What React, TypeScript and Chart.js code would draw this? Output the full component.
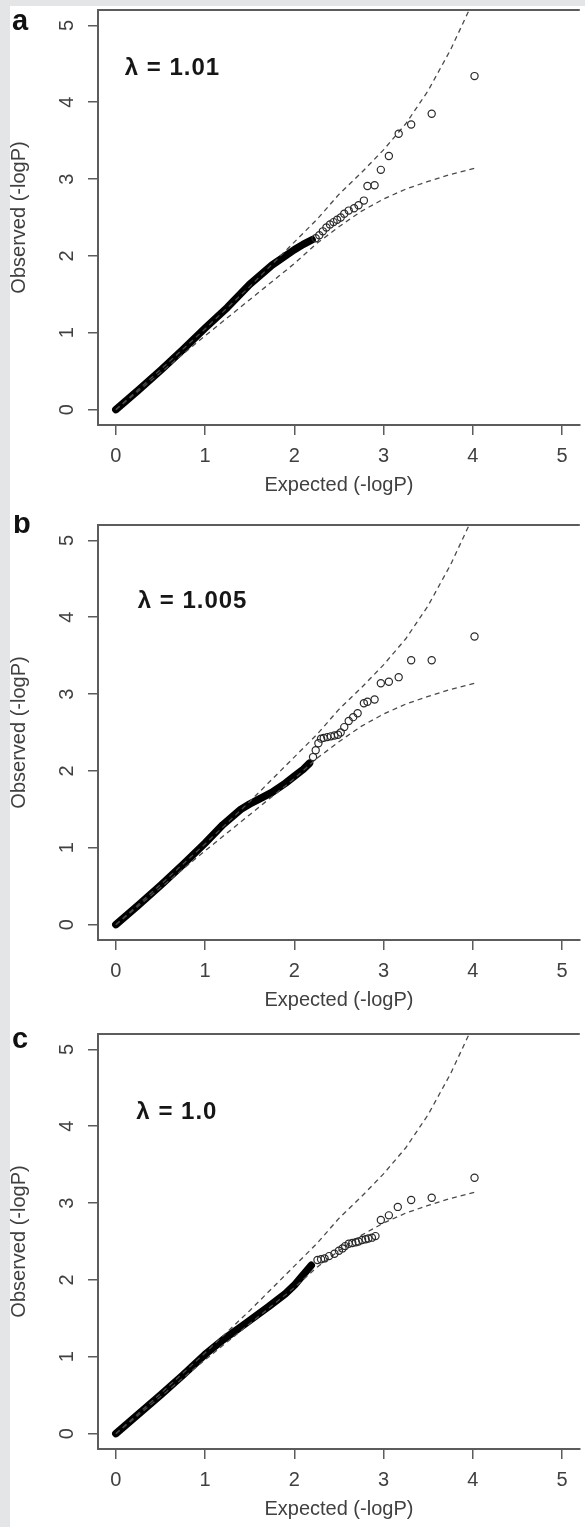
import React, { useEffect, useRef } from 'react';
import { Chart, registerables } from 'chart.js';

Chart.register(...registerables);

// ---------- axis / text ----------
const tickValues = [0, 1, 2, 3, 4, 5];
const tickLabels = ['0', '1', '2', '3', '4', '5'];
const axisMin = -0.2;
const axisMax = 5.2;
const xTitle = 'Expected (-logP)';
const yTitle = 'Observed (-logP)';
const panelLetters = ['a', 'b', 'c'];
const lambdaLabels = ['λ = 1.01', 'λ = 1.005', 'λ = 1.0'];
const lambdaX = [0.1, 0.245, 0.23];
const lambdaY = [4.35, 4.12, 4.1];

// ---------- confidence band (dashed) ----------
const ciUpperX = [0, 0.5, 1.0, 1.5, 2.0, 2.25, 2.5, 2.75, 3.0, 3.25, 3.5, 3.75, 3.96, 4.02];
const ciUpperY = [0, 0.52, 1.05, 1.6, 2.18, 2.47, 2.8, 3.08, 3.38, 3.72, 4.15, 4.68, 5.2, 5.32];
const ciLowerX = [0, 0.5, 1.0, 1.5, 2.0, 2.25, 2.5, 2.75, 3.0, 3.25, 3.5, 3.75, 4.02];
const ciLowerY = [0, 0.48, 0.96, 1.43, 1.9, 2.16, 2.38, 2.58, 2.74, 2.87, 2.97, 3.06, 3.14];

// ---------- panel a (lambda = 1.01) ----------
const denseAX = [0, 0.25, 0.5, 0.75, 1.0, 1.25, 1.5, 1.75, 2.0, 2.1, 2.2];
const denseAY = [0, 0.25, 0.51, 0.78, 1.06, 1.33, 1.63, 1.88, 2.08, 2.15, 2.21];
const tailAX = [2.24, 2.28, 2.32, 2.36, 2.4, 2.44, 2.48, 2.52, 2.56, 2.61, 2.67, 2.72, 2.78, 2.82, 2.9, 2.97, 3.06, 3.17, 3.31, 3.54, 4.02];
const tailAY = [2.23, 2.27, 2.32, 2.37, 2.41, 2.44, 2.47, 2.5, 2.55, 2.59, 2.62, 2.66, 2.72, 2.91, 2.92, 3.12, 3.3, 3.59, 3.71, 3.85, 4.34];

// ---------- panel b (lambda = 1.005) ----------
const denseBX = [0, 0.25, 0.5, 0.75, 1.0, 1.2, 1.4, 1.5, 1.6, 1.75, 1.9, 2.0, 2.1, 2.17];
const denseBY = [0, 0.25, 0.51, 0.78, 1.06, 1.3, 1.5, 1.57, 1.63, 1.72, 1.84, 1.93, 2.02, 2.1];
const tailBX = [2.21, 2.24, 2.27, 2.3, 2.33, 2.37, 2.41, 2.45, 2.49, 2.52, 2.56, 2.61, 2.66, 2.71, 2.78, 2.82, 2.9, 2.97, 3.06, 3.17, 3.31, 3.54, 4.02];
const tailBY = [2.18, 2.27, 2.36, 2.42, 2.43, 2.44, 2.45, 2.46, 2.47, 2.5, 2.57, 2.65, 2.7, 2.75, 2.88, 2.9, 2.93, 3.14, 3.16, 3.22, 3.44, 3.44, 3.75];

// ---------- panel c (lambda = 1.0) ----------
const denseCX = [0, 0.25, 0.5, 0.75, 1.0, 1.2, 1.45, 1.71, 1.9, 2.0, 2.08, 2.19];
const denseCY = [0, 0.25, 0.5, 0.76, 1.03, 1.22, 1.43, 1.65, 1.82, 1.93, 2.04, 2.19];
const tailCX = [2.26, 2.3, 2.34, 2.39, 2.45, 2.5, 2.54, 2.57, 2.61, 2.65, 2.69, 2.72, 2.76, 2.8, 2.83, 2.87, 2.91, 2.97, 3.06, 3.16, 3.31, 3.54, 4.02];
const tailCY = [2.26, 2.27, 2.28, 2.31, 2.34, 2.38, 2.41, 2.44, 2.47, 2.48, 2.49, 2.5, 2.52, 2.53, 2.54, 2.55, 2.57, 2.78, 2.84, 2.95, 3.04, 3.07, 3.33];

const denseXs = [denseAX, denseBX, denseCX];
const denseYs = [denseAY, denseBY, denseCY];
const tailXs = [tailAX, tailBX, tailCX];
const tailYs = [tailAY, tailBY, tailCY];

// ---------- layout (px) ----------
const PANEL_TOPS = [0, 515, 1024];
const LETTER_POS = [
  { x: 12, y: 30 },
  { x: 13, y: 18 },
  { x: 12, y: 24 },
];
const FONT = '"Liberation Sans", Arial, Helvetica, sans-serif';
const AXIS_COLOR = '#5c5c5c';
const TEXT_COLOR = '#404040';

const toPts = (xs: number[], ys: number[]) => xs.map((x, i) => ({ x, y: ys[i] }));

const decorPlugin = {
  id: 'decor',
  afterDraw(chart: any, _args: any, opts: any) {
    const { ctx, chartArea: ca, scales } = chart;
    const xs = scales.x;
    const ys = scales.y;
    ctx.save();
    // top spine of the box
    ctx.strokeStyle = AXIS_COLOR;
    ctx.lineWidth = 2;
    ctx.beginPath();
    ctx.moveTo(ca.left - 1, ca.top);
    ctx.lineTo(ca.right, ca.top);
    ctx.stroke();

    // rotated y tick labels (R style)
    ctx.fillStyle = TEXT_COLOR;
    ctx.font = `20px ${FONT}`;
    ctx.textAlign = 'center';
    ctx.textBaseline = 'alphabetic';
    tickValues.forEach((v, i) => {
      const py = ys.getPixelForValue(v);
      ctx.save();
      ctx.translate(73, py);
      ctx.rotate(-Math.PI / 2);
      ctx.fillText(tickLabels[i], 0, 0);
      ctx.restore();
    });

    // lambda label
    ctx.fillStyle = '#161616';
    ctx.font = `bold 24px ${FONT}`;
    (ctx as any).letterSpacing = '1px';
    ctx.textAlign = 'left';
    ctx.fillText(opts.lambda, xs.getPixelForValue(opts.lx), ys.getPixelForValue(opts.ly));

    // panel letter
    (ctx as any).letterSpacing = '0px';
    ctx.fillStyle = '#111';
    ctx.font = `bold 29px ${FONT}`;
    ctx.fillText(opts.letter, opts.letterX, opts.letterY);
    ctx.restore();
  },
};

function Panel({ idx }: { idx: number }) {
  const ref = useRef<HTMLCanvasElement | null>(null);
  useEffect(() => {
    if (!ref.current) return;
    const chart = new Chart(ref.current, {
      type: 'scatter',
      data: {
        datasets: [
          {
            label: 'observed (sparse)',
            data: toPts(tailXs[idx], tailYs[idx]),
            showLine: false,
            pointStyle: 'circle',
            pointRadius: 3.6,
            pointBorderWidth: 1.2,
            pointBorderColor: '#2a2a2a',
            pointBackgroundColor: 'rgba(0,0,0,0)',
            order: 1,
          },
          {
            label: 'upper',
            data: toPts(ciUpperX, ciUpperY),
            showLine: true,
            borderColor: '#4a4a4a',
            borderWidth: 1.3,
            borderDash: [5, 4],
            pointRadius: 0,
            clip: 0,
            order: 2,
          },
          {
            label: 'lower',
            data: toPts(ciLowerX, ciLowerY),
            showLine: true,
            borderColor: '#4a4a4a',
            borderWidth: 1.3,
            borderDash: [5, 4],
            pointRadius: 0,
            clip: 0,
            order: 2,
          },
          {
            label: 'observed (dense)',
            data: toPts(denseXs[idx], denseYs[idx]),
            showLine: true,
            borderColor: '#000',
            borderWidth: 7.5,
            borderCapStyle: 'round',
            borderJoinStyle: 'round',
            pointRadius: 0,
            order: 3,
          },
        ],
      } as any,
      options: {
        animation: false,
        responsive: false,
        events: [],
        layout: { padding: { top: 10, left: 0, right: 0, bottom: 0 } },
        plugins: {
          legend: { display: false },
          tooltip: { enabled: false },
          decor: {
            lambda: lambdaLabels[idx],
            lx: lambdaX[idx],
            ly: lambdaY[idx],
            letter: panelLetters[idx],
            letterX: LETTER_POS[idx].x,
            letterY: LETTER_POS[idx].y,
          },
        } as any,
        scales: {
          x: {
            type: 'linear',
            min: axisMin,
            max: axisMax,
            afterBuildTicks: (s: any) => {
              s.ticks = tickValues.map((v) => ({ value: v }));
            },
            afterFit: (s: any) => {
              s.height = 80;
            },
            ticks: {
              autoSkip: false,
              maxRotation: 0,
              padding: 9,
              color: TEXT_COLOR,
              font: { family: FONT, size: 20 },
              callback: (v: any) => {
                const i = tickValues.indexOf(Number(v));
                return i >= 0 ? tickLabels[i] : '';
              },
            },
            grid: { drawOnChartArea: false, drawTicks: true, tickLength: 10, color: AXIS_COLOR, lineWidth: 1.5 },
            border: { display: true, color: AXIS_COLOR, width: 2 },
            title: {
              display: true,
              text: xTitle,
              color: TEXT_COLOR,
              font: { family: FONT, size: 20 },
              padding: { top: 0, bottom: 8 },
            },
          },
          y: {
            type: 'linear',
            min: axisMin,
            max: axisMax,
            afterBuildTicks: (s: any) => {
              s.ticks = tickValues.map((v) => ({ value: v }));
            },
            afterFit: (s: any) => {
              s.width = 98;
            },
            ticks: { display: false },
            grid: { drawOnChartArea: false, drawTicks: true, tickLength: 10, color: AXIS_COLOR, lineWidth: 1.5 },
            border: { display: true, color: AXIS_COLOR, width: 2 },
            title: {
              display: true,
              text: yTitle,
              color: TEXT_COLOR,
              font: { family: FONT, size: 20 },
              padding: { top: 7, bottom: 0 },
            },
          },
        } as any,
      },
      plugins: [decorPlugin as any],
    });
    return () => chart.destroy();
  }, [idx]);

  return (
    <canvas
      ref={ref}
      width={585}
      height={505}
      style={{ position: 'absolute', left: 0, top: PANEL_TOPS[idx], width: 585, height: 505, display: 'block' }}
    />
  );
}

export default function App() {
  return (
    <div
      style={{
        position: 'absolute',
        left: 0,
        top: 0,
        width: 585,
        height: 1527,
        background: '#ffffff',
        overflow: 'hidden',
      }}
    >
      <div style={{ position: 'absolute', left: 0, top: 0, width: 10, height: 1527, background: '#e4e5e7' }} />
      <div style={{ position: 'absolute', left: 0, top: 0, width: 585, height: 6, background: '#e4e5e7' }} />
      {[0, 1, 2].map((i) => (
        <Panel key={i} idx={i} />
      ))}
    </div>
  );
}
